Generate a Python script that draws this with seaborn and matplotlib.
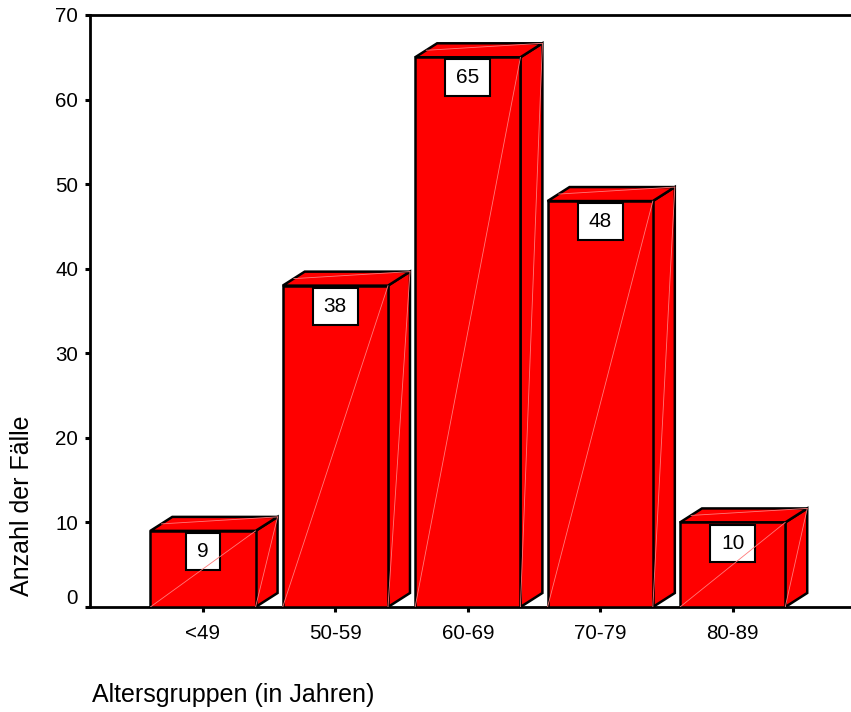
import matplotlib
matplotlib.use("Agg")
import matplotlib.pyplot as plt
import matplotlib.transforms as mtransforms
from matplotlib.patches import Polygon, Rectangle
import seaborn as sns
import pandas as pd

categories = ["<49", "50-59", "60-69", "70-79", "80-89"]
counts = [9, 38, 65, 48, 10]
y_ticks = [0, 10, 20, 30, 40, 50, 60, 70]
x_label = "Altersgruppen (in Jahren)"
y_label = "Anzahl der Fälle"

sns.set_theme(style="white")
plt.rcParams["font.family"] = ["Liberation Sans", "DejaVu Sans"]

df = pd.DataFrame({"group": categories, "n": counts})

fig = plt.figure(figsize=(8.51, 7.12), dpi=100)
ax = fig.add_axes([90 / 851, 1 - 607 / 712, 1 - 90 / 851, (607 - 15) / 712])

BAR_W = 0.795
RED = "#ff0000"
sns.barplot(data=df, x="group", y="n", color=RED, saturation=1, width=BAR_W,
            edgecolor="black", linewidth=1.8, ax=ax, zorder=3)

ax.set_xlim(-0.853, 4.894)
ax.set_ylim(0, 70)

dx, dy = 0.166, 1.655
hw = BAR_W / 2
DIAG = "#ff7a7a"
for i, v in enumerate(counts):
    xl, xr = i - hw, i + hw
    side = Polygon([(xr, 0), (xr + dx, dy), (xr + dx, v + dy), (xr, v)], closed=True,
                   facecolor=RED, edgecolor="black", linewidth=1.8, zorder=2.5,
                   joinstyle="miter")
    ax.add_patch(side)
    top = Polygon([(xl, v), (xl + dx, v + dy), (xr + dx, v + dy), (xr, v)], closed=True,
                  facecolor=RED, edgecolor="black", linewidth=1.8, zorder=2.5,
                  joinstyle="miter")
    ax.add_patch(top)
    ax.plot([xl, xr], [0, v], color=DIAG, lw=0.6, zorder=5)
    ax.plot([xr, xr + dx], [0, v + dy], color=DIAG, lw=0.6, zorder=4)
    ax.plot([xl + dx * 0.5, xr + dx], [v + dy * 0.5, v + dy], color=DIAG, lw=0.6, zorder=4)
    bw = 0.34 if v >= 10 else 0.25
    bh = 4.375
    btop = v - 0.25
    ax.add_patch(Rectangle((i - bw / 2, btop - bh), bw, bh, facecolor="white",
                           edgecolor="black", linewidth=1.5, zorder=4.5))
    ax.text(i, btop - bh / 2, str(v), ha="center", va="center", fontsize=15,
            color="black", zorder=6)

ax.set_yticks(y_ticks)
ax.set_yticklabels([str(t) for t in y_ticks])
ax.set_xlabel("")
ax.set_ylabel("")

for side_name in ["left", "top", "bottom"]:
    ax.spines[side_name].set_visible(True)
    ax.spines[side_name].set_color("black")
    ax.spines[side_name].set_linewidth(2.0)
ax.spines["right"].set_visible(False)

ax.tick_params(axis="both", which="major", direction="out", length=3.5, width=2.2,
               color="black", labelsize=14.8, labelcolor="black")
ax.tick_params(axis="y", left=True, pad=5)
ax.tick_params(axis="x", bottom=True, pad=9)

fig.canvas.draw()
for lab in ax.get_yticklabels():
    if lab.get_text() == "0":
        lab.set_transform(lab.get_transform() + mtransforms.ScaledTranslation(0, 10 / 100, fig.dpi_scale_trans))

fig.text(92 / 851, 1 - 695 / 712, x_label, ha="left", va="center", fontsize=18, color="black")
fig.text(22 / 851, 1 - 506 / 712, y_label, ha="center", va="center", rotation=90,
         fontsize=18, color="black")

fig.savefig("out.png", dpi=100)
